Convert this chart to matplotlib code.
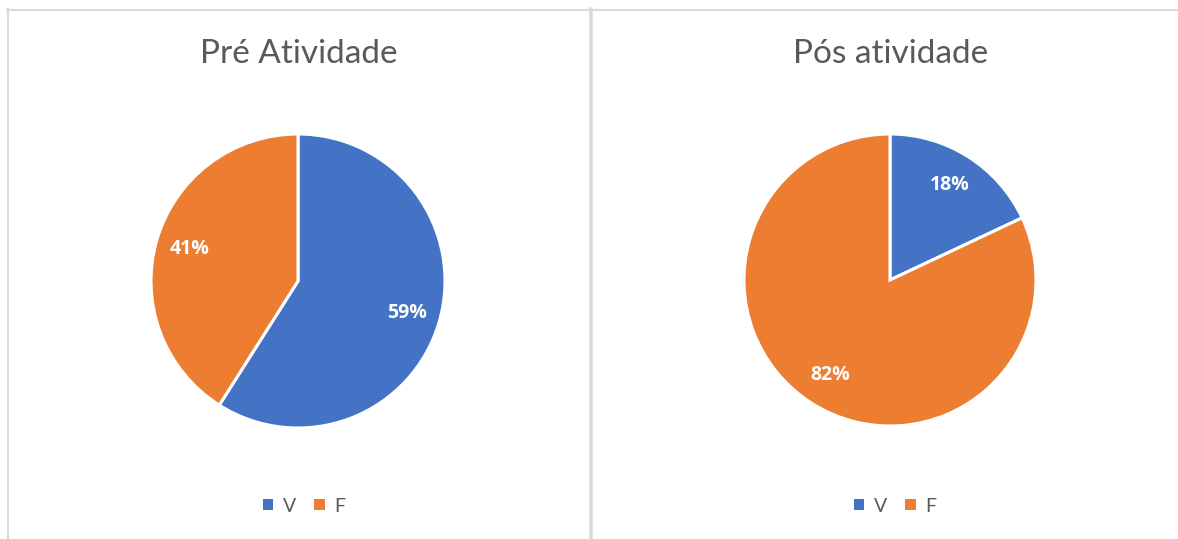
import matplotlib
matplotlib.use("Agg")
import matplotlib.pyplot as plt
from matplotlib.lines import Line2D
from matplotlib.patches import Patch

plt.rcParams['font.family'] = ['Lato', 'DejaVu Sans']

W, H = 1178, 539
BLUE = '#4472C4'
ORANGE = '#ED7D31'
GRID = '#D9D9D9'
TEXT = '#595959'

categories = ['V', 'F']
titles = ['Pré Atividade', 'Pós atividade']
pre_values = [59, 41]
post_values = [18, 82]

# pixel layout: (center x, center y, radius) for each pie
pies = [(298, 281, 147), (890, 280, 146)]
legend_x = [304, 895]


def px(x, y):
    return x / W, 1 - y / H


fig = plt.figure(figsize=(W / 100, H / 100), dpi=100)

# panel borders
lw = 72 / 100
fig.add_artist(Line2D([px(7, 0)[0], 1], [px(0, 9.5)[1]] * 2, color=GRID, lw=2 * lw))
fig.add_artist(Line2D([px(7.5, 0)[0]] * 2, [px(0, 9)[1], 0], color=GRID, lw=2 * lw))
fig.add_artist(Line2D([px(591, 0)[0]] * 2, [px(0, 9)[1], 0], color=GRID, lw=3.5 * lw))

for (cx, cy, r), title, values, lx in zip(pies, titles, [pre_values, post_values], legend_x):
    ax = fig.add_axes([(cx - r) / W, (H - cy - r) / H, 2 * r / W, 2 * r / H])
    wedges, texts, autotexts = ax.pie(
        values, colors=[BLUE, ORANGE], startangle=90, counterclock=False,
        autopct=lambda p: '%d%%' % round(p), pctdistance=0.77, radius=1,
        wedgeprops=dict(edgecolor='white', linewidth=2.2),
        textprops=dict(color='white', fontsize=14, fontweight='bold',
                       family=['Open Sans', 'DejaVu Sans']))
    for wdg in wedges:
        wdg.set_clip_on(False)
    ax.set_xlim(-1, 1)
    ax.set_ylim(-1, 1)
    ax.set_aspect('equal')

    tx, ty = px(cx + 1, 54)
    fig.text(tx, ty, title, ha='center', va='center', fontsize=24, color=TEXT)

    handles = [Patch(facecolor=c, edgecolor='none') for c in [BLUE, ORANGE]]
    lgx, lgy = px(lx, 506)
    fig.legend(handles, categories, loc='center', bbox_to_anchor=(lgx, lgy),
               ncol=2, frameon=False, handlelength=0.55, handleheight=0.55,
               handletextpad=0.5, columnspacing=0.9, fontsize=14,
               labelcolor=TEXT)

fig.savefig('out.png', dpi=100, facecolor='white')
